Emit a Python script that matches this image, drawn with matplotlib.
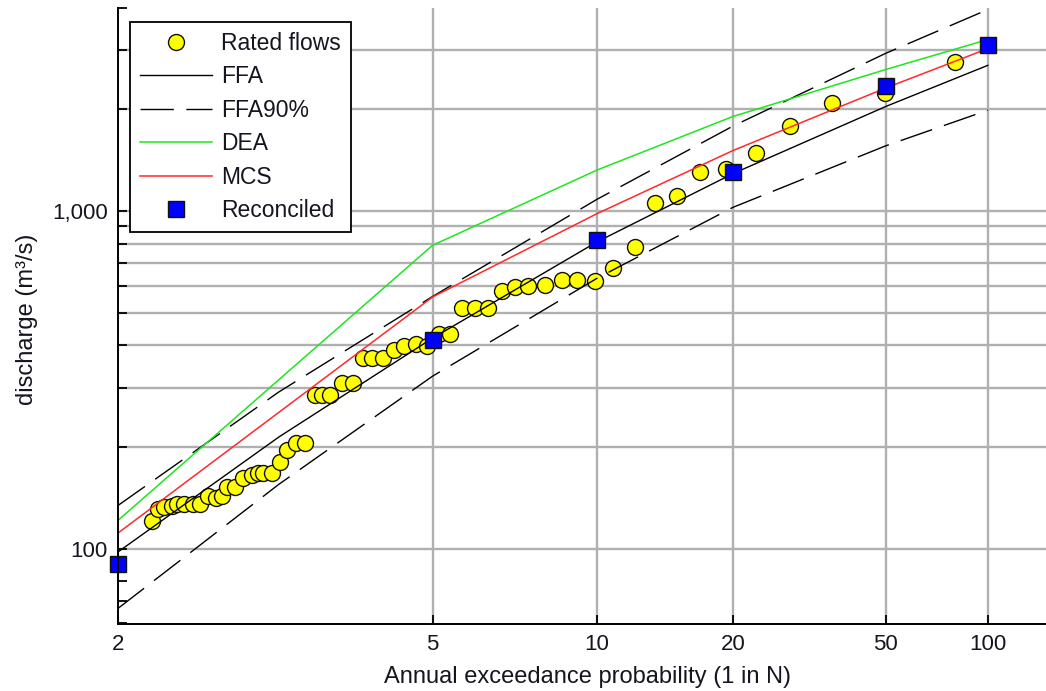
import math
import numpy as np
import matplotlib
matplotlib.use("Agg")
import matplotlib.pyplot as plt
from matplotlib.ticker import FixedLocator, FuncFormatter, NullFormatter
from matplotlib.lines import Line2D

# ---------------- data ----------------
# Rated flows: return period N (1 in N) and discharge (m3/s)
rated_N = [2.16, 2.19, 2.22, 2.26, 2.29, 2.33, 2.38, 2.42, 2.47, 2.52, 2.56,
           2.60, 2.65, 2.71, 2.78, 2.83, 2.87, 2.94, 3.01, 3.07, 3.16, 3.24,
           3.35, 3.42, 3.51, 3.65, 3.78, 3.91, 4.03, 4.18, 4.35, 4.50, 4.71,
           4.90, 5.12, 5.35, 5.60, 5.89, 6.21, 6.57, 6.94, 7.33, 7.89, 8.52,
           9.12, 9.90, 10.78, 12.0, 13.27, 14.85, 16.75, 19.27, 22.8, 27.7,
           35.6, 49.8, 79.5]
rated_Q = [121, 131, 133, 134, 136, 136, 136, 136, 143, 141, 143,
           152, 152, 162, 165, 168, 168, 168, 180, 196, 205, 206,
           285, 285, 285, 309, 309, 366, 366, 366, 387, 397, 403,
           397, 431, 431, 515, 515, 515, 578, 594, 598, 602, 624,
           624, 620, 677, 781, 1054, 1105, 1302, 1329, 1482, 1782,
           2084, 2232, 2757]

# Flood frequency analysis and its 90% bounds
ffa_N = [2, 3, 5, 10, 20, 50, 100]
ffa_Q = [97.6, 214, 420, 810, 1290, 2040, 2700]
ffa90_upper_Q = [134, 291, 558, 1083, 1784, 2932, 3950]
ffa90_lower_Q = [66.4, 155, 324, 632, 1025, 1560, 1988]

# Design event approach, Monte Carlo simulation, reconciled estimates
design_N = [2, 5, 10, 20, 50, 100]
dea_Q = [121, 791, 1322, 1905, 2625, 3219]
mcs_Q = [111, 556, 982, 1510, 2314, 3027]
reconciled_Q = [90, 414, 823, 1305, 2341, 3095]

x_ticks = [2, 5, 10, 20, 50, 100]
y_major = [100, 1000]
y_minor = [60, 70, 80, 90, 200, 300, 400, 500, 600, 700, 800, 900,
           2000, 3000, 4000]


# ------------- normal probability scale for return periods -------------
_erf = np.vectorize(math.erf, otypes=[float])
_erfc = np.vectorize(math.erfc, otypes=[float])


def _norm_ppf(p):
    p = np.asarray(p, dtype=float)
    lo = np.full(p.shape, -9.0)
    hi = np.full(p.shape, 9.0)
    for _ in range(55):
        mid = 0.5 * (lo + hi)
        below = 0.5 * (1.0 + _erf(mid / math.sqrt(2.0))) < p
        lo = np.where(below, mid, lo)
        hi = np.where(below, hi, mid)
    return 0.5 * (lo + hi)


def period_to_z(N):
    N = np.asarray(N, dtype=float)
    with np.errstate(divide="ignore", invalid="ignore"):
        p = 1.0 - 1.0 / N
    p = np.clip(np.nan_to_num(p, nan=1e-12, posinf=1.0, neginf=0.0),
                1e-12, 1 - 1e-12)
    return _norm_ppf(p)


def z_to_period(z):
    z = np.asarray(z, dtype=float)
    tail = 0.5 * _erfc(z / math.sqrt(2.0))
    with np.errstate(divide="ignore"):
        return 1.0 / tail


# ---------------- figure ----------------
plt.rcParams["font.family"] = ["Liberation Sans", "DejaVu Sans"]
TXT = "#15151f"
FS_TICK = 16
FS_LABEL = 17
FS_LEG = 16.5

fig = plt.figure(figsize=(10.46, 6.91), dpi=100)
ax = fig.add_axes([117.7 / 1046, 67.5 / 691, 928.3 / 1046, 615.8 / 691])
ax.set_xscale("function", functions=(period_to_z, z_to_period))
ax.set_yscale("log")
ax.set_xlim(2, 153)
ax.set_ylim(60, 4000)

grid_kw = dict(color="#b0b0b0", lw=1.7, zorder=0.5)
for v in x_ticks[1:]:
    ax.axvline(v, **grid_kw)
for v in y_major + y_minor:
    if 100 <= v < 4000:
        ax.axhline(v, **grid_kw)

ax.plot(rated_N, rated_Q, ls="none", marker="o", ms=11.5,
        mfc="#ffff00", mec="#111111", mew=1.0, zorder=3)

dash = (0, (24, 9))
ax.plot(ffa_N, ffa_Q, color="black", lw=1.0, zorder=4)
ax.plot(ffa_N, ffa90_upper_Q, color="black", lw=1.0, ls=dash, zorder=4)
ax.plot(ffa_N, ffa90_lower_Q, color="black", lw=1.0, ls=dash, zorder=4)
ax.plot(design_N, dea_Q, color="#1ee61e", lw=1.1, zorder=4)
ax.plot(design_N, mcs_Q, color="#ff2a2a", lw=1.1, zorder=4)
ax.plot(design_N, reconciled_Q, ls="none", marker="s", ms=11,
        mfc="#0000ff", mec="#111111", mew=1.0, zorder=5, clip_on=False)

# axes decoration
for side in ("top", "right"):
    ax.spines[side].set_visible(False)
for side in ("left", "bottom"):
    ax.spines[side].set_linewidth(1.4)
    ax.spines[side].set_zorder(6)

ax.xaxis.set_major_locator(FixedLocator(x_ticks))
ax.xaxis.set_major_formatter(FuncFormatter(lambda v, _: f"{v:g}"))
ax.xaxis.set_minor_locator(FixedLocator([]))
ax.yaxis.set_major_locator(FixedLocator(y_major))
ax.yaxis.set_minor_locator(FixedLocator(y_minor))
ax.yaxis.set_major_formatter(FuncFormatter(lambda v, _: f"{v:,.0f}"))
ax.yaxis.set_minor_formatter(NullFormatter())
ax.tick_params(which="both", direction="in", length=6.5, width=1.3,
               color="black", labelsize=FS_TICK, labelcolor=TXT)
ax.tick_params(axis="x", pad=7.8)
ax.tick_params(axis="y", pad=7)

ax.set_xlabel("Annual exceedance probability (1 in N)", fontsize=FS_LABEL,
              color=TXT)
ax.set_ylabel("discharge (m³/s)", fontsize=FS_LABEL, color=TXT)
ax.xaxis.set_label_coords(0.5056, -0.0698)
ax.yaxis.set_label_coords(-0.0859, 0.494)

handles = [
    Line2D([], [], ls="none", marker="o", ms=11.5, mfc="#ffff00",
           mec="#111111", mew=1.0),
    Line2D([], [], color="black", lw=1.0),
    Line2D([], [], color="black", lw=1.0, ls=dash),
    Line2D([], [], color="#1ee61e", lw=1.1),
    Line2D([], [], color="#ff2a2a", lw=1.1),
    Line2D([], [], ls="none", marker="s", ms=11, mfc="#0000ff",
           mec="#111111", mew=1.0),
]
labels = ["Rated flows", "FFA", "FFA90%", "DEA", "MCS", "Reconciled"]
leg = ax.legend(handles, labels, loc="upper left",
                bbox_to_anchor=(0.0133, 0.9768), borderaxespad=0,
                fancybox=False, framealpha=1, edgecolor="black",
                fontsize=FS_LEG, handlelength=3.14, handletextpad=0.43,
                labelspacing=0.46, borderpad=0.42, numpoints=1)
leg.get_frame().set_linewidth(1.3)
leg.set_zorder(10)
for t in leg.get_texts():
    t.set_color(TXT)

fig.savefig("out.png", dpi=100)
